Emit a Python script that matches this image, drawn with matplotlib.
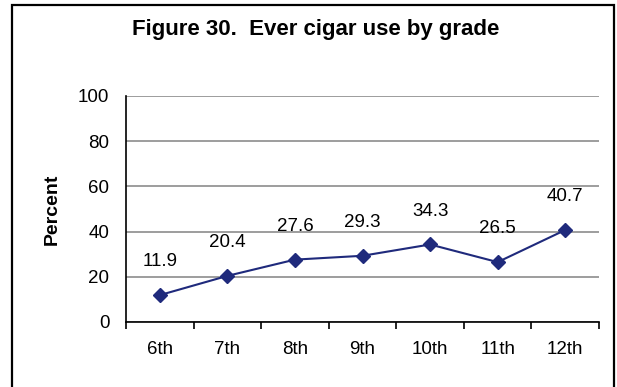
import matplotlib
matplotlib.use("Agg")
import matplotlib.pyplot as plt
from matplotlib.patches import Rectangle

grades = ["6th", "7th", "8th", "9th", "10th", "11th", "12th"]
percent = [11.9, 20.4, 27.6, 29.3, 34.3, 26.5, 40.7]
y_ticks = [0, 20, 40, 60, 80, 100]

plt.rcParams["font.family"] = ["Liberation Sans", "DejaVu Sans"]

W, H = 617, 387
fig = plt.figure(figsize=(W / 100, H / 100), dpi=100)
fig.patch.set_facecolor("white")

# plot area in pixel terms
left, right, top, bottom = 126, 599, 96, 322
ax = fig.add_axes([left / W, 1 - bottom / H, (right - left) / W, (bottom - top) / H])

x = list(range(len(grades)))
line_color = "#1F2A7C"
ax.plot(x, percent, color=line_color, linewidth=1.5, marker="D",
        markersize=7, markerfacecolor=line_color, markeredgecolor=line_color,
        zorder=3)

fs = 13.5
for xi, v in zip(x, percent):
    ax.annotate(f"{v:.1f}", (xi, v), xytext=(0, 24), textcoords="offset points",
                ha="center", va="center", fontsize=fs, color="black")

ax.set_xlim(-0.5, len(grades) - 0.5)
ax.set_ylim(0, 100)
ax.set_yticks(y_ticks)
ax.set_yticklabels([str(t) for t in y_ticks], fontsize=fs)
ax.tick_params(axis="y", length=0, pad=12)

# category ticks sit on the boundaries between grades
ax.set_xticks([i - 0.5 for i in range(len(grades) + 1)])
ax.set_xticklabels([])
ax.set_xticks(x, minor=True)
ax.set_xticklabels(grades, minor=True, fontsize=fs)
ax.tick_params(axis="x", which="major", direction="out", length=5, width=1.2)
ax.tick_params(axis="x", which="minor", length=0, pad=14)

ax.yaxis.grid(True, color="#8C8C8C", linewidth=1.2)
ax.set_axisbelow(True)
for s in ("top", "right"):
    ax.spines[s].set_visible(False)
for s in ("left", "bottom"):
    ax.spines[s].set_linewidth(1.2)
    ax.spines[s].set_color("black")

ax.set_ylabel("Percent", fontsize=14, fontweight="bold")
ax.yaxis.set_label_coords((61 - left) / (right - left), 0.5)

fig.text(316 / W, 1 - 30 / H, "Figure 30.  Ever cigar use by grade",
         ha="center", va="center", fontsize=16, fontweight="bold")

# chart frame
fig.add_artist(Rectangle((11.5 / W, -0.05), (613.5 - 11.5) / W, 1.05 - 4.5 / H,
                         transform=fig.transFigure, fill=False,
                         edgecolor="black", linewidth=1.6))

fig.savefig("out.png", dpi=100)
